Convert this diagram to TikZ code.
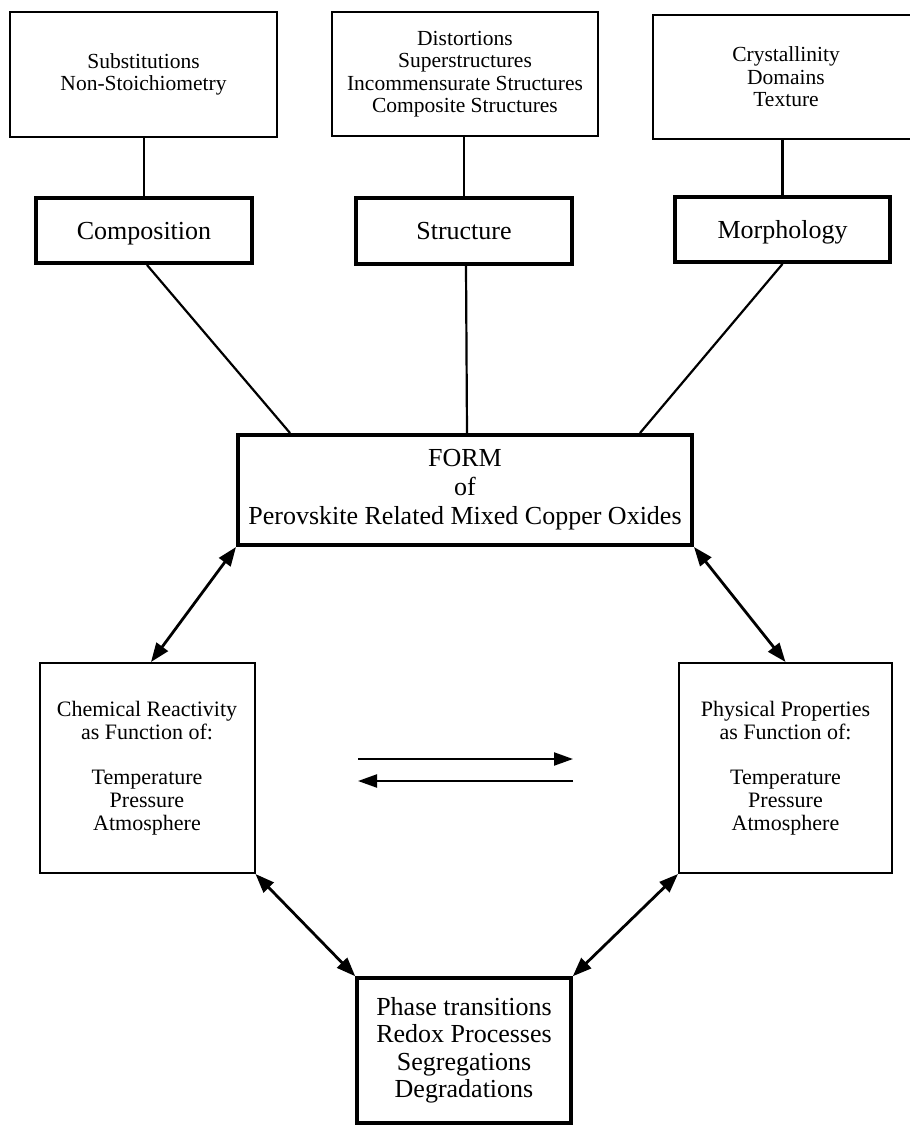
\documentclass[tikz,border=0pt]{standalone}
\usepackage{fontspec}
\setmainfont{Liberation Serif}
\usetikzlibrary{arrows.meta,calc}
\begin{document}
\begin{tikzpicture}[x=1pt,y=-1pt,
  topbox/.style={draw,line width=2pt,inner sep=0pt,align=center,
    font=\fontsize{21.5}{22.5}\selectfont},
  midbox/.style={draw,line width=4pt,inner sep=0pt,align=center,
    font=\fontsize{26}{28}\selectfont},
  sidebox/.style={draw,line width=2pt,inner sep=0pt,align=center,
    font=\fontsize{22}{22.8}\selectfont},
  conn/.style={line width=2.2pt},
  dbl/.style={line width=2.8pt,{Triangle[length=19pt,width=14pt]}-{Triangle[length=19pt,width=14pt]}},
  sgl/.style={line width=2.2pt,-{Triangle[length=19pt,width=13pt]}}
]
\useasboundingbox (0,0) rectangle (910,1125);

% top row
\node[topbox,minimum width=267pt,minimum height=125pt] (A) at (143.5,74.5)
  {Substitutions\\Non-Stoichiometry};
\node[topbox,minimum width=266pt,minimum height=124pt] (B) at (465,74)
  {Distortions\\Superstructures\\Incommensurate Structures\\Composite Structures};
\node[topbox,minimum width=266pt,minimum height=124pt] (C) at (786,77)
  {Crystallinity\\Domains\\Texture};

% second row
\node[midbox,minimum width=216pt,minimum height=65pt,text depth=0pt] (Comp) at (144,230.5) {Composition};
\node[midbox,minimum width=216pt,minimum height=66pt] (Struc) at (464,231) {Structure};
\node[midbox,minimum width=215pt,minimum height=65pt,text depth=0pt] (Morph) at (782.5,229.5) {Morphology};

% central
\node[midbox,minimum width=454pt,minimum height=110pt,font=\fontsize{26}{29}\selectfont] (FORM) at (465,490)
  {FORM\\of\\Perovskite Related Mixed Copper Oxides};

% side boxes
\node[sidebox,minimum width=215pt,minimum height=210pt] (Chem) at (147,768)
  {Chemical Reactivity\\as Function of:\\[22.8pt]Temperature\\Pressure\\Atmosphere};
\node[sidebox,minimum width=213pt,minimum height=210pt] (Phys) at (785.5,768)
  {Physical Properties\\as Function of:\\[22.8pt]Temperature\\Pressure\\Atmosphere};

% bottom
\node[midbox,line width=3.5pt,minimum width=214pt,minimum height=145pt,font=\fontsize{26}{27.5}\selectfont] (Phase) at (464,1050.5)
  {Phase transitions\\Redox Processes\\Segregations\\Degradations};

% connectors top
\draw[conn] (Comp.north) -- (Comp.north |- A.south);
\draw[conn] (Struc.north) -- (Struc.north |- B.south);
\draw[conn] (Morph.north) -- (Morph.north |- C.south);
\draw[conn] ([xshift=3pt]Comp.south) -- ([xshift=54pt]FORM.north west);
\draw[conn] ([xshift=2pt]Struc.south) -- ([xshift=2pt]FORM.north);
\draw[conn] (Morph.south) -- ([xshift=-54pt]FORM.north east);

% double arrows
\draw[dbl] (FORM.south west) -- ([xshift=4pt]Chem.north);
\draw[dbl] (FORM.south east) -- (Phys.north);
\draw[dbl] (Chem.south east) -- (Phase.north west);
\draw[dbl] (Phys.south west) -- (Phase.north east);

% equilibrium arrows
\coordinate (r1) at (358,759);
\coordinate (r2) at (573,759);
\coordinate (l1) at (573,781);
\coordinate (l2) at (358,781);
\draw[sgl] (r1) -- (r2);
\draw[sgl] (l1) -- (l2);
\end{tikzpicture}
\end{document}
